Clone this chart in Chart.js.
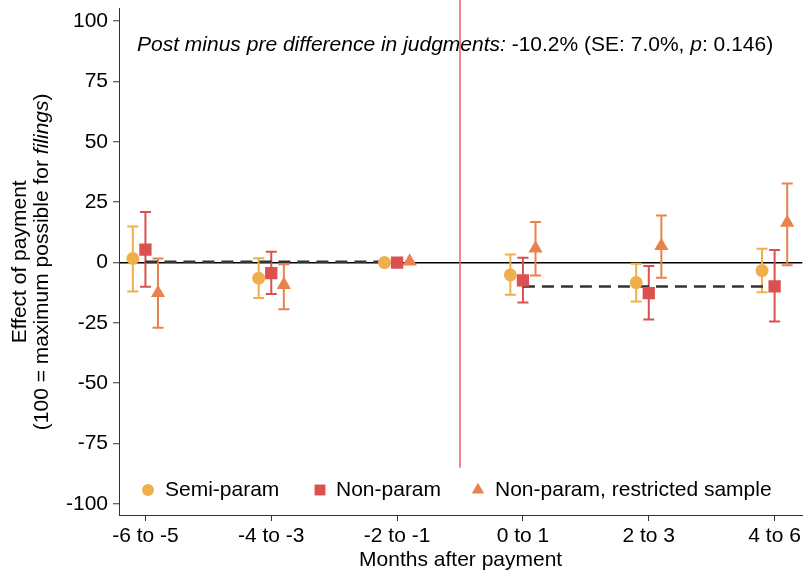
<!DOCTYPE html>
<html>
<head>
<meta charset="utf-8">
<script src="https://cdn.jsdelivr.net/npm/chart.js@4"></script>
<style>
  html, body { margin: 0; padding: 0; background: #fff; }
  #wrap { width: 811px; height: 576px; }
</style>
</head>
<body>
<div id="wrap"><canvas id="chart" width="811" height="576"></canvas></div>
<script>
// categories and estimates
const periods = ['-6 to -5', '-4 to -3', '-2 to -1', '0 to 1', '2 to 3', '4 to 6'];
const yTicks = [-100, -75, -50, -25, 0, 25, 50, 75, 100];

const semiEst = [1.7, -6.5, 0, -5.1, -8.3, -3.3];
const semiLo  = [-12.0, -14.7, null, -13.3, -16.1, -12.3];
const semiHi  = [15.0, 1.8, null, 3.3, -0.5, 5.7];

const nonEst = [5.4, -4.4, 0, -7.4, -12.7, -9.9];
const nonLo  = [-10.0, -13.0, null, -16.5, -23.6, -24.4];
const nonHi  = [21.0, 4.5, null, 2.0, -1.4, 5.2];

const resEst = [-12.6, -9.2, 0.5, 5.9, 6.9, 16.5];
const resLo  = [-27.0, -19.3, null, -5.4, -6.3, -1.1];
const resHi  = [1.7, -0.7, null, 16.8, 19.5, 32.8];

const preMean = 0.3;
const postMean = -9.9;
const paymentAt = 2.5;

const FONT = "'Liberation Sans', Arial, Helvetica, sans-serif";
const FS = 21;

const colors = {
    semi: '#EFAF4B',
    non: '#DA5150',
    res: '#E8834F'
};

const groupOffset = 0.1;

function pts(est, off) {
    return est.map((v, i) => ({ x: i + off, y: v }));
}

const series = [
    { label: 'Semi-param', est: semiEst, lo: semiLo, hi: semiHi, off: -groupOffset, color: colors.semi, style: 'circle', radius: 6.5 },
    { label: 'Non-param', est: nonEst, lo: nonLo, hi: nonHi, off: 0, color: colors.non, style: 'rect', radius: 8.7 },
    { label: 'Non-param, restricted sample', est: resEst, lo: resLo, hi: resHi, off: groupOffset, color: colors.res, style: 'triangle', radius: 8.2 }
];

// error bars drawn under markers
const errorBars = {
    id: 'errorBars',
    beforeDatasetsDraw(chart) {
        const { ctx, scales: { x, y } } = chart;
        ctx.save();
        series.forEach(s => {
            ctx.strokeStyle = s.color;
            ctx.lineWidth = 2;
            s.est.forEach((v, i) => {
                if (s.lo[i] === null) return;
                const px = x.getPixelForValue(i + s.off);
                const lo = y.getPixelForValue(s.lo[i]);
                const hi = y.getPixelForValue(s.hi[i]);
                ctx.beginPath();
                ctx.moveTo(px, lo); ctx.lineTo(px, hi);
                ctx.moveTo(px - 5.5, lo); ctx.lineTo(px + 5.5, lo);
                ctx.moveTo(px - 5.5, hi); ctx.lineTo(px + 5.5, hi);
                ctx.stroke();
            });
        });
        ctx.restore();
    }
};

function drawMixed(ctx, parts, x, y) {
    parts.forEach(([txt, italic]) => {
        ctx.font = (italic ? 'italic ' : '') + FS + 'px ' + FONT;
        ctx.fillText(txt, x, y);
        x += ctx.measureText(txt).width;
    });
}

function mixedWidth(ctx, parts) {
    let w = 0;
    parts.forEach(([txt, italic]) => {
        ctx.font = (italic ? 'italic ' : '') + FS + 'px ' + FONT;
        w += ctx.measureText(txt).width;
    });
    return w;
}

// annotation, legend inside the plot, and the two-line y title
const extras = {
    id: 'extras',
    afterDraw(chart) {
        const { ctx, chartArea } = chart;
        ctx.save();
        ctx.fillStyle = '#000';
        ctx.textBaseline = 'middle';
        ctx.textAlign = 'left';

        drawMixed(ctx, [
            ['Post minus pre difference in judgments:', true],
            [' -10.2% (SE: 7.0%, ', false],
            ['p', true],
            [': 0.146)', false]
        ], 137, 45);

        // legend
        const ly = 490;
        const items = [
            { s: series[0], mx: 148, tx: 165 },
            { s: series[1], mx: 320, tx: 336 },
            { s: series[2], mx: 478, tx: 495 }
        ];
        ctx.fillStyle = '#fff';
        ctx.fillRect(135, 470, 660, 42);
        items.forEach(it => {
            ctx.fillStyle = it.s.color;
            Chart.helpers.drawPoint(ctx, {
                pointStyle: it.s.style,
                radius: it.s.style === 'circle' ? 6 : it.s.radius - 1,
                rotation: 0,
                borderWidth: 0
            }, it.mx, ly);
            ctx.fillStyle = '#000';
            ctx.font = FS + 'px ' + FONT;
            ctx.fillText(it.s.label, it.tx, ly);
        });

        // y title
        const cy = (chartArea.top + chartArea.bottom) / 2;
        ctx.translate(20, cy);
        ctx.rotate(-Math.PI / 2);
        ctx.textAlign = 'center';
        ctx.font = FS + 'px ' + FONT;
        ctx.fillText('Effect of payment', 0, 0);
        const line2 = [['(100 = maximum possible for ', false], ['filings', true], [')', false]];
        const w = mixedWidth(ctx, line2);
        ctx.textAlign = 'left';
        drawMixed(ctx, line2, -w / 2, 22);
        ctx.restore();
    }
};

const datasets = [];

datasets.push({
    label: 'payment',
    type: 'line',
    data: [{ x: paymentAt, y: 110 }, { x: paymentAt, y: -85 }],
    borderColor: '#F06260',
    borderWidth: 1.5,
    pointRadius: 0,
    clip: false,
    order: 5
});
datasets.push({
    label: 'pre mean',
    type: 'line',
    data: [{ x: 0, y: preMean }, { x: 2, y: preMean }],
    borderColor: '#333',
    borderWidth: 2.5,
    borderDash: [12, 7],
    pointRadius: 0,
    order: 4
});
datasets.push({
    label: 'post mean',
    type: 'line',
    data: [{ x: 3, y: postMean }, { x: 5, y: postMean }],
    borderColor: '#333',
    borderWidth: 2.5,
    borderDash: [12, 7],
    pointRadius: 0,
    order: 4
});
series.forEach(s => {
    datasets.push({
        label: s.label,
        type: 'scatter',
        data: pts(s.est, s.off),
        pointStyle: s.style,
        pointRadius: s.radius,
        pointBackgroundColor: s.color,
        pointBorderWidth: 0,
        showLine: false,
        order: 1
    });
});

new Chart(document.getElementById('chart'), {
    type: 'scatter',
    data: { datasets },
    options: {
        responsive: false,
        animation: false,
        layout: { padding: { top: 3, right: 1, left: 0, bottom: 0 } },
        plugins: {
            legend: { display: false },
            tooltip: { enabled: false }
        },
        scales: {
            x: {
                type: 'linear',
                min: -0.21,
                max: 5.22,
                afterBuildTicks: sc => { sc.ticks = periods.map((_, i) => ({ value: i })); },
                afterFit: sc => { sc.height = 61; sc.paddingLeft = 0; sc.paddingRight = 0; },
                ticks: {
                    autoSkip: false,
                    maxRotation: 0,
                    padding: 3,
                    color: '#000',
                    font: { family: FONT, size: FS },
                    callback: v => periods[v]
                },
                grid: { drawOnChartArea: false, tickLength: 6, tickColor: '#333', tickWidth: 1 },
                border: { color: '#333', width: 1 },
                title: {
                    display: true,
                    text: 'Months after payment',
                    color: '#000',
                    font: { family: FONT, size: FS },
                    padding: { top: 0, bottom: 3 }
                }
            },
            y: {
                min: -104.6,
                max: 105.2,
                afterBuildTicks: sc => { sc.ticks = yTicks.map(v => ({ value: v })); },
                afterFit: sc => { sc.width = 119; sc.paddingTop = 0; sc.paddingBottom = 0; },
                ticks: {
                    padding: 5,
                    color: '#000',
                    font: { family: FONT, size: FS }
                },
                grid: {
                    color: c => (c.tick && c.tick.value === 0 ? '#000' : 'rgba(0,0,0,0)'),
                    lineWidth: 1.5,
                    tickLength: 6,
                    tickColor: '#333',
                    tickWidth: 1
                },
                border: { color: '#333', width: 1 }
            }
        }
    },
    plugins: [errorBars, extras]
});
</script>
</body>
</html>
